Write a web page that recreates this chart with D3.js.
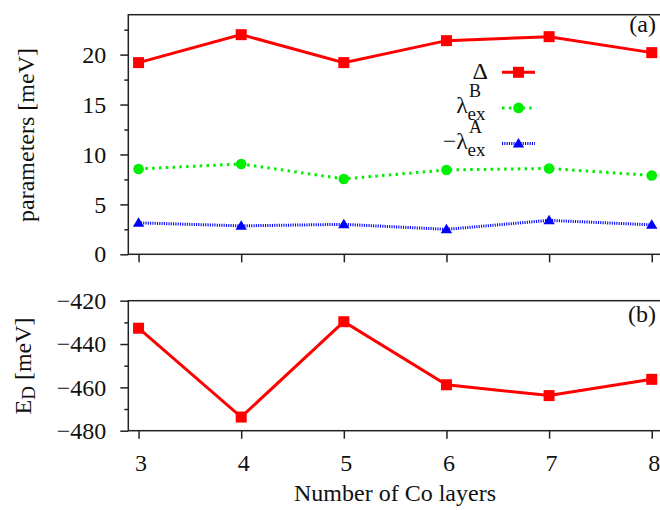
<!DOCTYPE html>
<html>
<head>
<meta charset="utf-8">
<script src="https://cdn.jsdelivr.net/npm/d3@7"></script>
<style>
  html, body { margin: 0; padding: 0; background: #fff; }
  svg { display: block; }
</style>
</head>
<body>
<svg id="chart" width="660" height="510"></svg>
<script>
// ---- data ----
const layers = [3, 4, 5, 6, 7, 8];
const delta = [19.2, 22.0, 19.2, 21.4, 21.8, 20.2];
const lambdaB = [8.55, 9.05, 7.55, 8.45, 8.6, 7.9];
const lambdaA = [3.15, 2.85, 3.0, 2.5, 3.4, 2.95];
const energyD = [-432.7, -473.7, -429.7, -458.8, -463.8, -456.3];
const topTicks = [0, 5, 10, 15, 20];
const topMinor = [2.5, 7.5, 12.5, 17.5, 22.5];
const botTicks = [-480, -460, -440, -420];
const botMinor = [-470, -450, -430];
const xTicks = [3, 4, 5, 6, 7, 8];

const svg = d3.select("#chart");
const FS = 24;
const FONT = '"Liberation Serif"';
const TXT = "#111";
const frameColor = "#222";

function styleText(sel, size) {
  return sel.attr("font-family", null).style("font-family", FONT).style("font-size", (size || FS) + "px").style("fill", TXT);
}

const x = d3.scaleLinear().domain([2.9, 8.1]).range([128.3, 662]);
const yTop = d3.scaleLinear().domain([0, 24]).range([254.3, 14.7]);
const yBot = d3.scaleLinear().domain([-480, -420]).range([430.7, 300.7]);

function minusFmt(d) { return d < 0 ? "\u2212" + Math.abs(d) : String(d); }

function cleanAxis(a) {
  a.attr("font-family", null).attr("font-size", null);
  a.select(".domain").remove();
  a.selectAll("line").attr("stroke", frameColor).attr("stroke-width", 1.5);
  return a;
}

function panel(y, ticks, minor) {
  const g = svg.append("g");
  const [y0, y1] = y.range();
  const [x0, x1] = x.range();
  g.append("rect").attr("x", x0).attr("y", y1).attr("width", x1 - x0).attr("height", y0 - y1)
    .attr("fill", "none").attr("stroke", frameColor).attr("stroke-width", 1.5);
  const ya = cleanAxis(g.append("g").attr("transform", `translate(${x0},0)`)
    .call(d3.axisLeft(y).tickValues(ticks).tickSize(8).tickSizeOuter(0).tickPadding(14).tickFormat(minusFmt)));
  styleText(ya.selectAll("text"), FS).attr("dy", "0.32em");
  cleanAxis(g.append("g").attr("transform", `translate(${x0},0)`)
    .call(d3.axisLeft(y).tickValues(minor).tickSize(4).tickSizeOuter(0).tickFormat("")));
  return g;
}

panel(yTop, topTicks, topMinor);
panel(yBot, botTicks, botMinor);

cleanAxis(svg.append("g").attr("transform", `translate(0,${yTop.range()[0]})`)
  .call(d3.axisBottom(x).tickValues(xTicks).tickSize(8).tickSizeOuter(0).tickFormat("")));

const xaBot = cleanAxis(svg.append("g").attr("transform", `translate(0,${yBot.range()[0]})`)
  .call(d3.axisBottom(x).tickValues(xTicks).tickSize(8).tickSizeOuter(0).tickPadding(15).tickFormat(d3.format("d"))));
styleText(xaBot.selectAll("text"), FS).attr("dx", "2");

// series
const series = [
  { vals: delta, color: "#ff0000", dash: null, width: 3, marker: "square" },
  { vals: lambdaB, color: "#00ee00", dash: "2.5,4.3", width: 3, marker: "circle" },
  { vals: lambdaA, color: "#0000ff", dash: "1.1,1.2", width: 3, marker: "triangle" }
];

function drawMarker(g, type, cx, cy, color) {
  if (type === "square") {
    g.append("rect").attr("x", cx - 5.5).attr("y", cy - 5.5).attr("width", 11).attr("height", 11).attr("fill", color);
  } else if (type === "circle") {
    g.append("circle").attr("cx", cx).attr("cy", cy).attr("r", 5.3).attr("fill", color);
  } else {
    g.append("path").attr("d", `M${cx - 5.7},${cy + 4}L${cx + 5.7},${cy + 4}L${cx},${cy - 5.5}Z`).attr("fill", color);
  }
}

function drawSeries(vals, y, s) {
  const g = svg.append("g");
  const line = d3.line().x((d, i) => x(layers[i])).y(d => y(d));
  const p = g.append("path").datum(vals).attr("d", line).attr("fill", "none")
    .attr("stroke", s.color).attr("stroke-width", s.width).attr("stroke-linejoin", "miter");
  if (s.dash) p.attr("stroke-dasharray", s.dash);
  vals.forEach((v, i) => drawMarker(g, s.marker, x(layers[i]), y(v), s.color));
}

series.slice().reverse().forEach(s => drawSeries(s.vals, yTop, s));
drawSeries(energyD, yBot, { color: "#ff0000", dash: null, width: 3, marker: "square" });

// legend
const legY0 = 72.3, legDy = 35.6;
const lx0 = 502, lx1 = 535, lmx = 518.5;
series.forEach((s, i) => {
  const ly = legY0 + i * legDy;
  const l = svg.append("line").attr("x1", lx0).attr("x2", lx1).attr("y1", ly).attr("y2", ly)
    .attr("stroke", s.color).attr("stroke-width", s.width);
  if (s.dash) l.attr("stroke-dasharray", s.dash);
  drawMarker(svg, s.marker, lmx, ly, s.color);
});
styleText(svg.append("text"), FS).attr("x", 488).attr("y", legY0 + 7).attr("text-anchor", "end").text("\u0394");
[["\u03bb", "B"], ["\u2212\u03bb", "A"]].forEach((t, k) => {
  const ly = legY0 + (k + 1) * legDy;
  styleText(svg.append("text"), FS).attr("x", 468).attr("y", ly + 5).attr("text-anchor", "end").text(t[0]);
  styleText(svg.append("text"), 19).attr("x", 467.5).attr("y", ly + 12.5).attr("text-anchor", "start").text("ex");
  styleText(svg.append("text"), 18).attr("x", 469).attr("y", ly - 11).attr("text-anchor", "start").text(t[1]);
});

// panel labels
styleText(svg.append("text"), FS).attr("x", 656).attr("y", 32).attr("text-anchor", "end").text("(a)");
styleText(svg.append("text"), FS).attr("x", 656).attr("y", 322).attr("text-anchor", "end").text("(b)");

// axis titles
styleText(svg.append("text"), FS).attr("transform", "translate(34,135) rotate(-90)").attr("text-anchor", "middle")
  .text("parameters [meV]");
const ed = styleText(svg.append("text"), FS).attr("transform", "translate(31,366) rotate(-90)").attr("text-anchor", "middle");
ed.append("tspan").text("E");
ed.append("tspan").style("font-size", "19px").attr("dy", 4).text("D");
ed.append("tspan").attr("dy", -4).text(" [meV]");

styleText(svg.append("text"), FS).attr("x", 395).attr("y", 501).attr("text-anchor", "middle").text("Number of Co layers");
</script>
</body>
</html>
